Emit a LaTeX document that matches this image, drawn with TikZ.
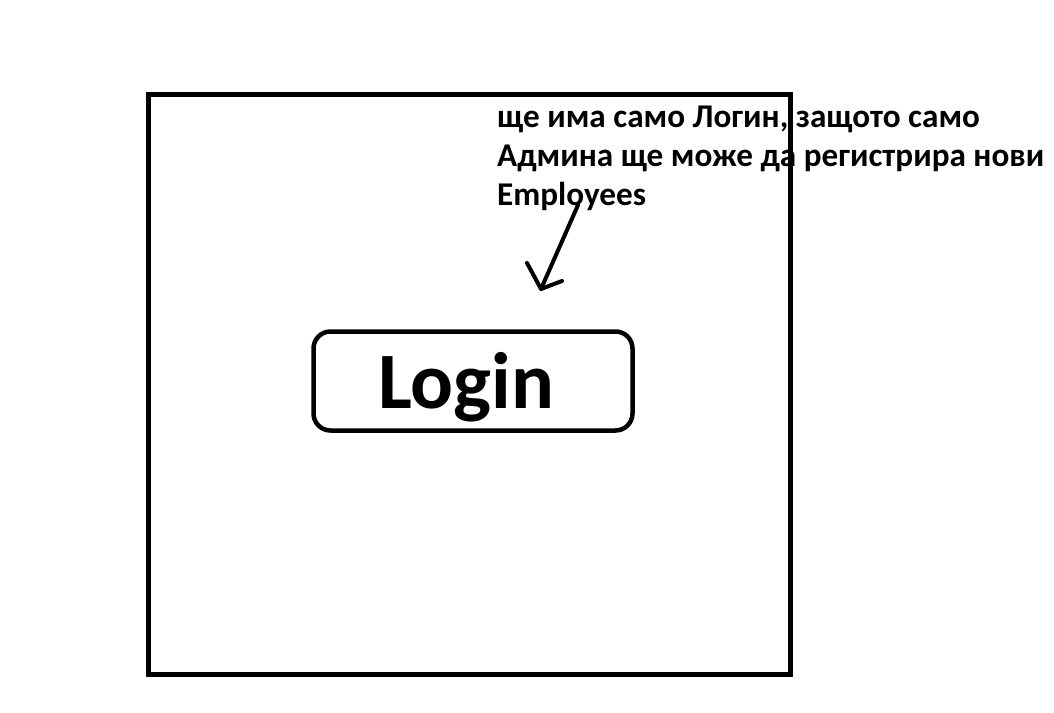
\documentclass[tikz,border=0pt]{standalone}
\usepackage{fontspec}
\setmainfont{Carlito}
\begin{document}
\begin{tikzpicture}[x=1pt,y=-1pt,
  note/.style={anchor=base west,inner sep=0pt,font=\bfseries\fontsize{33.2}{39}\selectfont},
  loginbox/.style={draw=black,line width=4.5pt,rounded corners=17pt},
  frame/.style={draw=black,line width=5pt},
  pen/.style={draw=black,line width=4pt,line cap=round,line join=round}]
\useasboundingbox (0,0) rectangle (1054,712);
% note text
\node[note] (t1) at (497,127) {ще има само Логин, защото само};
\node[note] (t2) at (497,166) {Админа ще може да регистрира нови};
\node[note] (t3) at (497,205) {Employees};
% login button
\path[loginbox] (313.5,331.5) rectangle (632.5,430.5);
\node[anchor=base west,inner sep=0pt,font=\bfseries\fontsize{80}{90}\selectfont] (login) at (378,408) {Login};
% outer frame
\draw[frame] (148.5,94.5) rectangle (790.5,674.5);
% arrow
\coordinate (a0) at (578,205);
\coordinate (tip) at (541,289);
\coordinate (b1) at (527,263);
\coordinate (b2) at (562,281);
\draw[pen] (a0) -- (tip);
\draw[pen] (b1) -- (tip) -- (b2);
\end{tikzpicture}
\end{document}
